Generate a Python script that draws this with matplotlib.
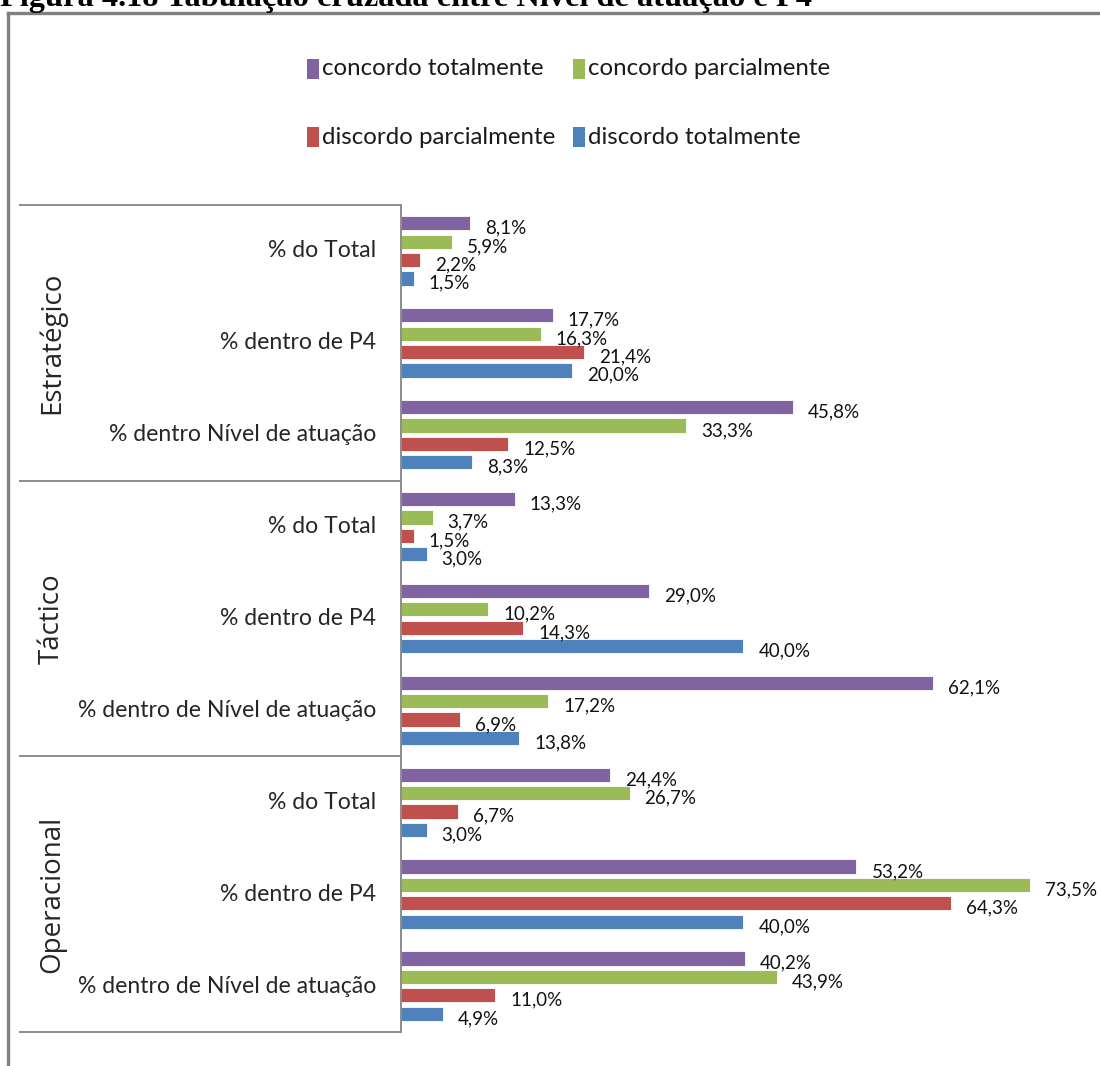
import matplotlib
matplotlib.use('Agg')
import matplotlib.pyplot as plt
from matplotlib.lines import Line2D
from matplotlib.patches import Rectangle
from matplotlib.transforms import blended_transform_factory

# Dados da tabulação cruzada (Nível de atuação x P4)
niveis = ['Estratégico', 'Táctico', 'Operacional']
medidas = ['% do Total', '% dentro de P4', '% dentro Nível de atuação',
           '% do Total', '% dentro de P4', '% dentro de Nível de atuação',
           '% do Total', '% dentro de P4', '% dentro de Nível de atuação']
series = ['concordo totalmente', 'concordo parcialmente',
          'discordo parcialmente', 'discordo totalmente']
cores = ['#8064A2', '#9BBB59', '#C0504D', '#4F81BD']

concordo_tot = [8.1, 17.7, 45.8, 13.3, 29.0, 62.1, 24.4, 53.2, 40.2]
concordo_parc = [5.9, 16.3, 33.3, 3.7, 10.2, 17.2, 26.7, 73.5, 43.9]
discordo_parc = [2.2, 21.4, 12.5, 1.5, 14.3, 6.9, 6.7, 64.3, 11.0]
discordo_tot = [1.5, 20.0, 8.3, 3.0, 40.0, 13.8, 3.0, 40.0, 4.9]
valores = [concordo_tot, concordo_parc, discordo_parc, discordo_tot]

titulo = 'Figura 4.18 Tabulação cruzada entre Nível de atuação e P4'
fonte = 'Lato'

W, H = 1100, 1066
fig = plt.figure(figsize=(W / 100, H / 100), dpi=100)


def fx(px):
    return px / W


def fy(py):
    return 1 - py / H


# titulo (cortado no topo) e moldura
fig.text(0.0, fy(6), titulo, fontfamily='Liberation Serif', fontweight='bold',
         fontsize=23.3, va='baseline', ha='left', color='black')
fig.add_artist(Line2D([fx(8), 1], [fy(13), fy(13)], color='#808080', lw=2.4))
fig.add_artist(Line2D([fx(8), fx(8)], [fy(13), 0], color='#808080', lw=2.4))

# legenda manual em duas linhas
leg_pos = [(307, 69), (573, 69), (307, 137), (573, 137)]
for nome, cor, (px, py) in zip(series, cores, leg_pos):
    fig.add_artist(Rectangle((fx(px), fy(py + 10)), 12 / W, 20 / H,
                             facecolor=cor, edgecolor='none'))
    fig.text(fx(px + 15), fy(py), nome, fontfamily=fonte,
             fontsize=17.3, va='center', ha='left', color='#1a1a1a')

# area dos graficos
ax_l, ax_r, ax_t, ax_b = 401, 1100, 205, 1032
ax = fig.add_axes([fx(ax_l), fy(ax_b), (ax_r - ax_l) / W, (ax_b - ax_t) / H])
escala = 8.56  # px por ponto percentual
ax.set_xlim(0, (ax_r - ax_l) / escala)
ax.set_ylim(len(medidas), 0)

for k, (vals, cor) in enumerate(zip(valores, cores)):
    ys = [i + 0.2 + 0.2 * k for i in range(len(vals))]
    ax.barh(ys, vals, height=0.155, color=cor, edgecolor='white', linewidth=0.6)
    for y, v in zip(ys, vals):
        ax.annotate(f'{v:.1f}'.replace('.', ',') + '%', xy=(v, y),
                    xytext=(10.8, -3.5), textcoords='offset points',
                    ha='left', va='center', fontfamily=fonte,
                    fontsize=13.5, color='#111111')

for s in ['top', 'right', 'bottom']:
    ax.spines[s].set_visible(False)
ax.spines['left'].set_color('#8c8c8c')
ax.spines['left'].set_linewidth(1.4)
ax.set_xticks([])
ax.set_yticks([])

trans = blended_transform_factory(ax.transAxes, ax.transData)
largura = ax_r - ax_l

# linhas separadoras dos niveis
for b in range(0, len(medidas) + 1, 3):
    ax.plot([(20 - ax_l) / largura, 0], [b, b], transform=trans, clip_on=False,
            color='#8c8c8c', lw=1.4)

# rotulos das medidas
for i, m in enumerate(medidas):
    ax.text(-25 / largura, i + 0.5, m, transform=trans, ha='right', va='center',
            fontfamily=fonte, fontsize=16.6, color='#262626')

# rotulos dos niveis (rodados)
for g, n in enumerate(niveis):
    ax.text((52 - ax_l) / largura, 3 * g + 1.5, n, transform=trans,
            rotation=90, ha='center', va='center', fontfamily='Open Sans',
            fontsize=20, color='#262626')

fig.savefig('out.png', dpi=100)
